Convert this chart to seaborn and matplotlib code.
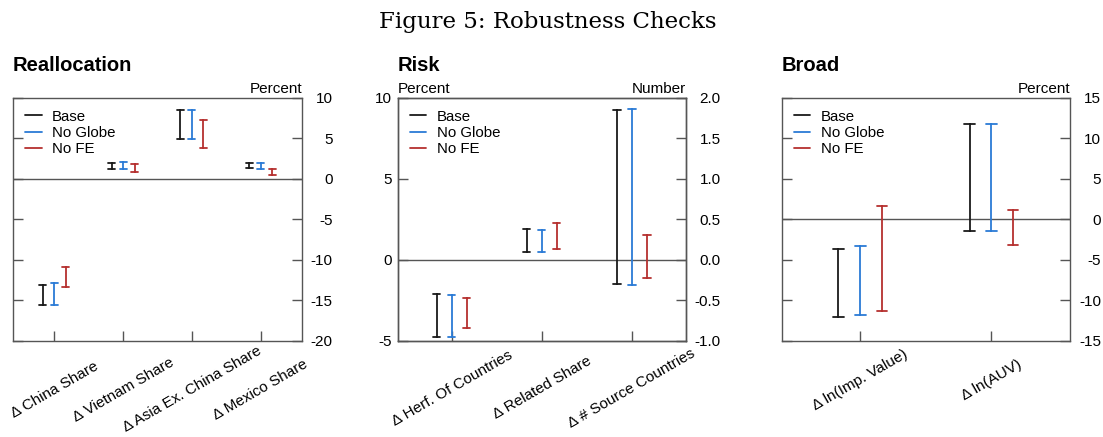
import matplotlib
matplotlib.use("Agg")
import matplotlib.pyplot as plt
from matplotlib.lines import Line2D
import numpy as np
import pandas as pd
import seaborn as sns

# ---------------- data ----------------
series_names = ["Base", "No Globe", "No FE"]
series_colors = ["#1a1a1a", "#2b7bd6", "#b5302f"]

realloc_cats = ["Δ China Share", "Δ Vietnam Share", "Δ Asia Ex. China Share", "Δ Mexico Share"]
realloc_base_lo = [-15.56, 1.19, 4.94, 1.28]
realloc_base_hi = [-13.09, 1.93, 8.52, 1.93]
realloc_noglobe_lo = [-15.51, 1.19, 4.86, 1.19]
realloc_noglobe_hi = [-12.88, 2.06, 8.52, 1.93]
realloc_nofe_lo = [-13.37, 0.82, 3.83, 0.41]
realloc_nofe_hi = [-10.90, 1.85, 7.28, 1.15]

risk_cats = ["Δ Herf. Of Countries", "Δ Related Share", "Δ # Source Countries"]
risk_base_lo = [-4.73, 0.51, -0.30]
risk_base_hi = [-2.10, 1.89, 1.85]
risk_noglobe_lo = [-4.77, 0.47, -0.31]
risk_noglobe_hi = [-2.14, 1.87, 1.865]
risk_nofe_lo = [-4.20, 0.70, -0.222]
risk_nofe_hi = [-2.35, 2.26, 0.313]
risk_right_axis_cats = ["Δ # Source Countries"]

broad_cats = ["Δ ln(Imp. Value)", "Δ ln(AUV)"]
broad_base_lo = [-12.06, -1.44]
broad_base_hi = [-3.62, 11.73]
broad_noglobe_lo = [-11.77, -1.44]
broad_noglobe_hi = [-3.29, 11.73]
broad_nofe_lo = [-11.32, -3.21]
broad_nofe_hi = [1.60, 1.11]

realloc_yticks = [-20, -15, -10, -5, 0, 5, 10]
risk_left_yticks = [-5, 0, 5, 10]
risk_right_yticks = [-1.0, -0.5, 0.0, 0.5, 1.0, 1.5, 2.0]
broad_yticks = [-15, -10, -5, 0, 5, 10, 15]


def long_frame(cats, lo_hi_pairs):
    rows = []
    for name, (lo, hi) in zip(series_names, lo_hi_pairs):
        for c, l, h in zip(cats, lo, hi):
            rows.append({"cat": c, "series": name, "value": l})
            rows.append({"cat": c, "series": name, "value": h})
    return pd.DataFrame(rows)


df_realloc = long_frame(realloc_cats, [(realloc_base_lo, realloc_base_hi),
                                       (realloc_noglobe_lo, realloc_noglobe_hi),
                                       (realloc_nofe_lo, realloc_nofe_hi)])
df_risk = long_frame(risk_cats, [(risk_base_lo, risk_base_hi),
                                 (risk_noglobe_lo, risk_noglobe_hi),
                                 (risk_nofe_lo, risk_nofe_hi)])
df_broad = long_frame(broad_cats, [(broad_base_lo, broad_base_hi),
                                   (broad_noglobe_lo, broad_noglobe_hi),
                                   (broad_nofe_lo, broad_nofe_hi)])

# ---------------- style ----------------
sns.set_style("white")
plt.rcParams["font.family"] = ["Liberation Sans", "DejaVu Sans"]
plt.rcParams["axes.unicode_minus"] = False
plt.rcParams["text.color"] = "black"
plt.rcParams["xtick.labelcolor"] = "black"
plt.rcParams["ytick.labelcolor"] = "black"

SPINE = "#555555"
FS = 11
W, H = 1103, 437
fig = plt.figure(figsize=(W / 100, H / 100), dpi=100)


def rect(l, r, t=97.7, b=341.0):
    return [l / W, 1 - b / H, (r - l) / W, (b - t) / H]


def draw(ax, df, order, capsize):
    sns.pointplot(data=df, x="cat", y="value", hue="series", order=order,
                  hue_order=series_names, palette=series_colors,
                  estimator="mean", errorbar=lambda v: (v.min(), v.max()),
                  dodge=1 / 3, linestyle="none", marker="", capsize=capsize,
                  err_kws={"linewidth": 1.3}, legend=False, ax=ax, zorder=3)
    ax.set_xlabel("")
    ax.set_ylabel("")


def style_box(ax, n, label_pad):
    for s in ax.spines.values():
        s.set_visible(True)
        s.set_color(SPINE)
        s.set_linewidth(1.0)
    ax.set_xlim(-0.6, n - 0.4)
    ax.tick_params(axis="x", direction="in", length=7, width=1.0, color=SPINE,
                   labelcolor="black", bottom=True, top=False, labelsize=FS, pad=label_pad)
    for t in ax.get_xticklabels():
        t.set_rotation(30)
        t.set_ha("center")
        t.set_va("center")
        t.set_rotation_mode("anchor")
    ax.axhline(0, color="#555555", lw=1.0, zorder=1)


def right_labels(ax, ticks, lim, pad, fmt=None):
    ax.set_ylim(*lim)
    ax.set_yticks(ticks)
    if fmt:
        ax.set_yticklabels([fmt.format(v) for v in ticks])
    else:
        ax.set_yticklabels([str(v) for v in ticks])
    ax.tick_params(axis="y", direction="in", length=7, width=1.0, color=SPINE,
                   labelcolor="black", labelsize=FS, pad=pad)
    for t in ax.get_yticklabels():
        t.set_ha("right")


def add_legend(ax):
    handles = [Line2D([], [], color=c, lw=1.3) for c in series_colors]
    ax.legend(handles, series_names, loc="upper left", frameon=False, fontsize=10.8,
              handlelength=1.1, handletextpad=0.7, labelspacing=0.15,
              borderpad=0.2, borderaxespad=0.6, labelcolor="black")


def panel_title(ax, text):
    ax.text(0.0, 1 + 27 / 243.3, text, transform=ax.transAxes, ha="left",
            va="baseline", fontsize=14.5, fontweight="bold", color="black")


# Panel 1: Reallocation
ax1 = fig.add_axes(rect(13, 302))
draw(ax1, df_realloc, realloc_cats, 0.1)
style_box(ax1, len(realloc_cats), 35)
ax1.tick_params(axis="y", left=True, right=True, labelleft=False, labelright=True)
right_labels(ax1, realloc_yticks, (-20, 10), 22)
add_legend(ax1)
ax1.text(1.0, 1.005, "Percent", transform=ax1.transAxes, ha="right", va="bottom", fontsize=FS)
panel_title(ax1, "Reallocation")

# Panel 2: Risk
ax2 = fig.add_axes(rect(397.7, 686))
df_risk_left = df_risk[~df_risk["cat"].isin(risk_right_axis_cats)]
df_risk_right = df_risk[df_risk["cat"].isin(risk_right_axis_cats)]
draw(ax2, df_risk_left, risk_cats, 0.08)
ax2b = ax2.twinx()
draw(ax2b, df_risk_right, risk_cats, 0.08)
style_box(ax2, len(risk_cats), 34)
ax2b.set_xlim(-0.6, len(risk_cats) - 0.4)
for s in ax2b.spines.values():
    s.set_color(SPINE)
    s.set_linewidth(1.0)
ax2.set_ylim(-5, 10)
ax2.set_yticks(risk_left_yticks)
ax2.set_yticklabels([str(v) for v in risk_left_yticks])
ax2.tick_params(axis="y", direction="in", length=7, width=1.0, color=SPINE,
                labelcolor="black", left=True, right=False, labelleft=True, labelright=False,
                labelsize=FS, pad=4.3)
ax2b.tick_params(axis="y", left=False, right=True, labelleft=False, labelright=True)
right_labels(ax2b, risk_right_yticks, (-1.0, 2.0), 25, "{:.1f}")
add_legend(ax2)
ax2.text(0.0, 1.005, "Percent", transform=ax2.transAxes, ha="left", va="bottom", fontsize=FS)
ax2.text(1.0, 1.005, "Number", transform=ax2.transAxes, ha="right", va="bottom", fontsize=FS)
panel_title(ax2, "Risk")

# Panel 3: Broad
ax3 = fig.add_axes(rect(781.7, 1070))
draw(ax3, df_broad, broad_cats, 0.08)
style_box(ax3, len(broad_cats), 28)
ax3.tick_params(axis="y", left=True, right=True, labelleft=False, labelright=True)
right_labels(ax3, broad_yticks, (-15, 15), 22.5)
add_legend(ax3)
ax3.text(1.0, 1.005, "Percent", transform=ax3.transAxes, ha="right", va="bottom", fontsize=FS)
panel_title(ax3, "Broad")

fig.text(0.497, 1 - 21.7 / H, "Figure 5: Robustness Checks", ha="center", va="center",
         fontsize=16.5, family="DejaVu Serif", color="black")

fig.savefig("out.png", dpi=100)
